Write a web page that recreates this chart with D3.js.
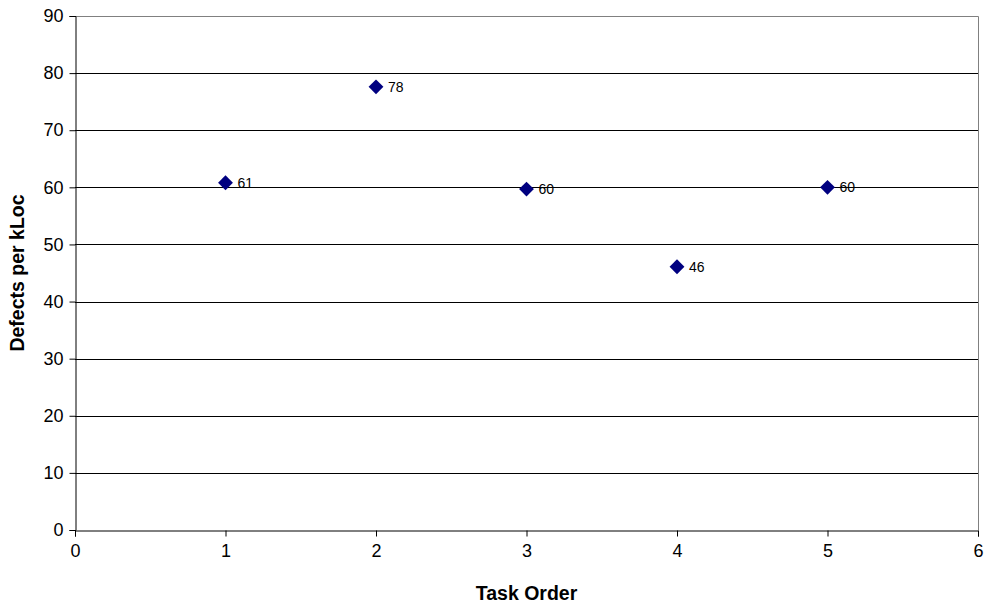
<!DOCTYPE html>
<html>
<head>
<meta charset="utf-8">
<script src="https://cdn.jsdelivr.net/npm/d3@7"></script>
<style>
  body { margin: 0; background: #fff; }
  text { font-family: "Liberation Sans", Arial, sans-serif; }
</style>
</head>
<body>
<svg id="chart" width="991" height="612"></svg>
<script>
// Task order vs. defect density
const taskOrder = [1, 2, 3, 4, 5];
const defectsPerKLoc = [60.8, 77.6, 59.7, 46.1, 60.0];
const xTicks = [0, 1, 2, 3, 4, 5, 6];
const yTicks = [0, 10, 20, 30, 40, 50, 60, 70, 80, 90];

const svg = d3.select("#chart");
const m = { left: 75, right: 13, top: 16, bottom: 82 };
const W = 991, H = 612;

const x = d3.scaleLinear().domain([0, 6]).range([m.left, W - m.right]);
const y = d3.scaleLinear().domain([0, 90]).range([H - m.bottom, m.top]);

// horizontal gridlines
svg.append("g").selectAll("line").data(yTicks.filter(t => t > 0 && t < 90)).join("line")
  .attr("x1", x(0)).attr("x2", x(6))
  .attr("y1", d => Math.round(y(d)) + 0.5).attr("y2", d => Math.round(y(d)) + 0.5)
  .attr("stroke", "#000").attr("stroke-width", 1);

// plot area border (top and right in grey)
svg.append("path")
  .attr("d", `M${x(0)},${Math.round(y(90)) + 0.5}H${Math.round(x(6)) + 0.5}V${y(0)}`)
  .attr("fill", "none").attr("stroke", "#808080");

// axes
const yAxis = d3.axisLeft(y).tickValues(yTicks).tickSize(6).tickPadding(6).tickFormat(d3.format("d"));
const gy = svg.append("g").attr("transform", `translate(${Math.round(x(0)) + 0.5},0)`).call(yAxis);
gy.select(".domain").attr("stroke", "#000");
gy.selectAll(".tick line").attr("stroke", "#000");
gy.selectAll("text").attr("font-size", 18).attr("fill", "#000")
  .attr("font-family", "Liberation Sans, Arial, sans-serif");

const xAxis = d3.axisBottom(x).tickValues(xTicks).tickSize(6).tickPadding(8).tickFormat(d3.format("d"));
const gx = svg.append("g").attr("transform", `translate(0,${Math.round(y(0)) + 0.5})`).call(xAxis);
gx.select(".domain").attr("stroke", "#000");
gx.selectAll(".tick line").attr("stroke", "#000");
gx.selectAll("text").attr("font-size", 18).attr("fill", "#000")
  .attr("font-family", "Liberation Sans, Arial, sans-serif");

// axis titles
svg.append("text")
  .attr("x", (x(0) + x(6)) / 2).attr("y", 600)
  .attr("text-anchor", "middle").attr("font-size", 19.5).attr("font-weight", "bold")
  .text("Task Order");
svg.append("text")
  .attr("transform", `translate(24,${(y(0) + y(90)) / 2}) rotate(-90)`)
  .attr("text-anchor", "middle").attr("font-size", 19.5).attr("font-weight", "bold")
  .text("Defects per kLoc");

// points
const pts = taskOrder.map((t, i) => ({ t, v: defectsPerKLoc[i] }));
const diamond = d3.symbol().type(d3.symbolSquare).size(110);
svg.append("g").selectAll("path").data(pts).join("path")
  .attr("d", diamond)
  .attr("transform", d => `translate(${x(d.t)},${y(d.v)}) rotate(45)`)
  .attr("fill", "#000080");

// value labels
svg.append("g").selectAll("text").data(pts).join("text")
  .attr("x", d => x(d.t) + 12).attr("y", d => y(d.v) + 5)
  .attr("font-size", 14).attr("fill", "#000")
  .text(d => d3.format(".0f")(d.v));
</script>
</body>
</html>
